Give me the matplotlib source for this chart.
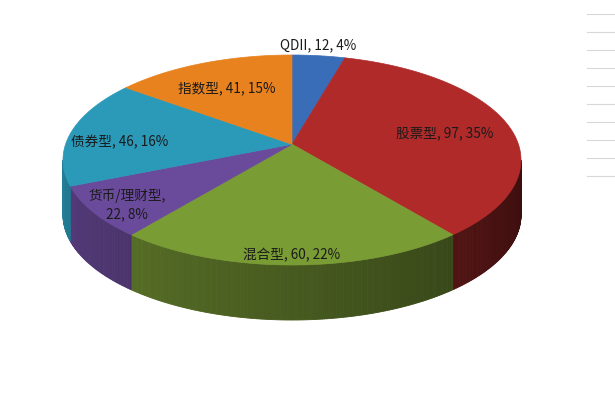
import numpy as np
import matplotlib
matplotlib.use('Agg')
from matplotlib import pyplot as plt
from matplotlib.patches import Polygon

plt.rcParams['font.family'] = ['Noto Sans CJK SC', 'DejaVu Sans']

# data
names = ['QDII', '股票型', '混合型', '货币/理财型', '债券型', '指数型']
values = [12, 97, 60, 22, 46, 41]
percents = [4, 35, 22, 8, 16, 15]
colors = ['#3a6db8', '#b02a2a', '#7a9c35', '#6a4a9a', '#2a9ab8', '#e8821e']

# layout (pixels)
cx, rx = 292, 229          # horizontal centre / half width
top, height = 55, 210      # top face vertical extent
depth = 55
k = 0.15                   # perspective strength
label_pos = [(318, 45), (445, 133), (292, 255), (127, 205), (120, 142), (227, 88)]

fig = plt.figure(figsize=(6.15, 3.97), dpi=100)
ax = fig.add_axes([0, 0, 1, 1])
ax.set_xlim(0, 615)
ax.set_ylim(397, 0)
ax.axis('off')

xmax = 1 / np.sqrt(1 - k ** 2)
ymin, ymax = -1 / (1 + k), 1 / (1 - k)


def proj(X, Y):
    return cx + X / xmax * rx, top + (Y - ymin) / (ymax - ymin) * height


def pt(theta, dy=0):
    t = np.radians(theta)
    w = 1 + k * np.cos(t)
    x, y = proj(np.sin(t) / w, -np.cos(t) / w)
    return x, y + dy


centre = proj(0, 0)
total = float(sum(values))
bounds = np.concatenate([[0], np.cumsum(values) / total * 360])
edge = np.degrees(np.arcsin(k))

# side walls (visible front part), shaded left->right
for i in range(len(values)):
    a1, a2 = max(bounds[i], 90 + edge), min(bounds[i + 1], 270 - edge)
    if a2 <= a1:
        continue
    base = np.array(matplotlib.colors.to_rgb(colors[i]))
    steps = np.linspace(a1, a2, max(int((a2 - a1) / 0.5), 2))
    for s, e in zip(steps[:-1], steps[1:]):
        m = (s + e) / 2
        f = 0.3 + 0.55 * (m - 90) / 180
        c = np.clip(base * f, 0, 1)
        p = [pt(s), pt(e), pt(e, depth), pt(s, depth)]
        ax.add_patch(Polygon(p, closed=True, facecolor=c, edgecolor=c, lw=0.6))

# top faces
for i in range(len(values)):
    th = np.linspace(bounds[i], bounds[i + 1], 200)
    p = [centre] + [pt(t) for t in th]
    ax.add_patch(Polygon(p, closed=True, facecolor=colors[i], edgecolor=colors[i], lw=0.5))

# labels
for i, n in enumerate(names):
    sep = ',\n' if '/' in n else ', '
    txt = f'{n}{sep}{values[i]}, {percents[i]}%'
    ax.text(label_pos[i][0], label_pos[i][1], txt, fontsize=9.8, color='#1a1a1a',
            ha='center', va='center', linespacing=1.4)

# faint lines at right edge
for y in [14, 32, 50, 68, 86, 104, 122, 140, 158, 176]:
    ax.plot([587, 615], [y, y], color='#d8d8d8', lw=0.8)

fig.savefig('out.png', dpi=100)
